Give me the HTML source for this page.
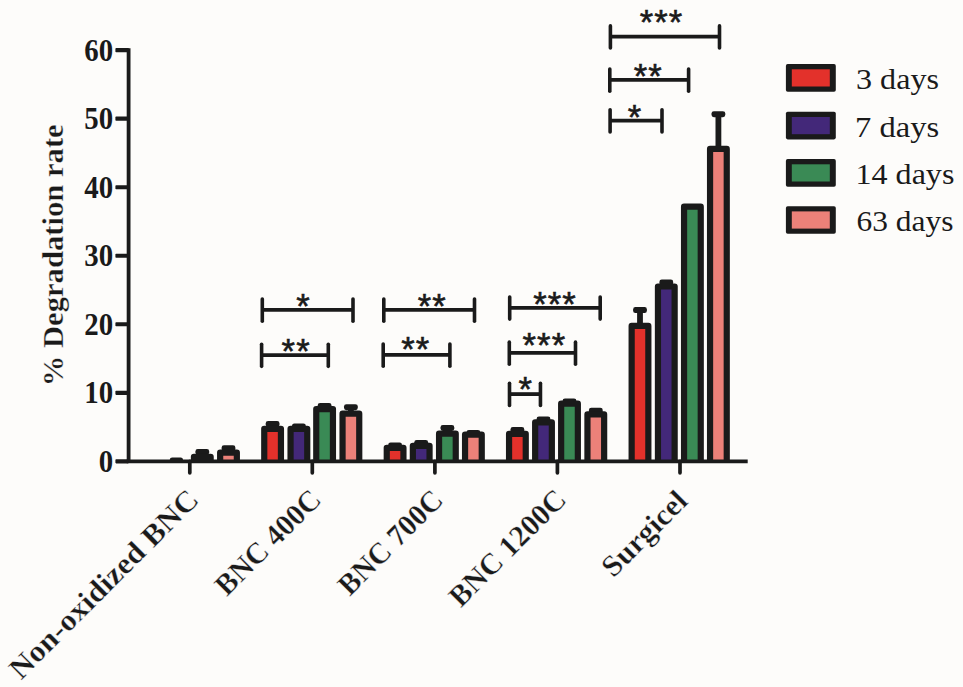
<!DOCTYPE html>
<html><head><meta charset="utf-8"><style>
html,body{margin:0;padding:0;background:#fdfcfa;width:963px;height:687px;overflow:hidden;}
svg{display:block;}
</style></head><body>
<svg width="963" height="687" viewBox="0 0 963 687">
<defs><clipPath id="cb"><rect x="0" y="0" width="963" height="461.3"/></clipPath></defs>
<rect x="0" y="0" width="963" height="687" fill="#fdfcfa"/>
<g clip-path="url(#cb)">
<rect x="169.80" y="457.40" width="13.2" height="8" rx="2.4" fill="#1a1a1a"/>
<rect x="199.40" y="450.00" width="5.8" height="7.80" fill="#1a1a1a"/>
<rect x="195.40" y="449.00" width="13.8" height="6.0" rx="2.4" fill="#1a1a1a"/>
<rect x="193.95" y="456.80" width="16.70" height="14.50" fill="#3a8a55" stroke="#1a1a1a" stroke-width="6.2" stroke-linejoin="round"/>
<rect x="225.60" y="446.30" width="5.8" height="7.30" fill="#1a1a1a"/>
<rect x="221.60" y="445.30" width="13.8" height="6.0" rx="2.4" fill="#1a1a1a"/>
<rect x="220.15" y="452.60" width="16.70" height="18.70" fill="#ec8179" stroke="#1a1a1a" stroke-width="6.2" stroke-linejoin="round"/>
<rect x="269.70" y="422.00" width="5.8" height="7.80" fill="#1a1a1a"/>
<rect x="265.70" y="421.00" width="13.8" height="6.0" rx="2.4" fill="#1a1a1a"/>
<rect x="264.25" y="428.80" width="16.70" height="42.50" fill="#e3312b" stroke="#1a1a1a" stroke-width="6.2" stroke-linejoin="round"/>
<rect x="296.00" y="424.40" width="5.8" height="5.40" fill="#1a1a1a"/>
<rect x="292.00" y="423.40" width="13.8" height="6.0" rx="2.4" fill="#1a1a1a"/>
<rect x="290.55" y="428.80" width="16.70" height="42.50" fill="#432879" stroke="#1a1a1a" stroke-width="6.2" stroke-linejoin="round"/>
<rect x="321.70" y="404.10" width="5.8" height="6.00" fill="#1a1a1a"/>
<rect x="317.70" y="403.10" width="13.8" height="6.0" rx="2.4" fill="#1a1a1a"/>
<rect x="316.25" y="409.10" width="16.70" height="62.20" fill="#3a8a55" stroke="#1a1a1a" stroke-width="6.2" stroke-linejoin="round"/>
<rect x="348.00" y="405.20" width="5.8" height="9.50" fill="#1a1a1a"/>
<rect x="344.00" y="404.20" width="13.8" height="6.0" rx="2.4" fill="#1a1a1a"/>
<rect x="342.55" y="413.70" width="16.70" height="57.60" fill="#ec8179" stroke="#1a1a1a" stroke-width="6.2" stroke-linejoin="round"/>
<rect x="392.20" y="443.60" width="5.8" height="5.20" fill="#1a1a1a"/>
<rect x="388.20" y="442.60" width="13.8" height="6.0" rx="2.4" fill="#1a1a1a"/>
<rect x="386.75" y="447.80" width="16.70" height="23.50" fill="#e3312b" stroke="#1a1a1a" stroke-width="6.2" stroke-linejoin="round"/>
<rect x="418.30" y="440.90" width="5.8" height="5.90" fill="#1a1a1a"/>
<rect x="414.30" y="439.90" width="13.8" height="6.0" rx="2.4" fill="#1a1a1a"/>
<rect x="412.85" y="445.80" width="16.70" height="25.50" fill="#432879" stroke="#1a1a1a" stroke-width="6.2" stroke-linejoin="round"/>
<rect x="444.50" y="426.00" width="5.8" height="8.70" fill="#1a1a1a"/>
<rect x="440.50" y="425.00" width="13.8" height="6.0" rx="2.4" fill="#1a1a1a"/>
<rect x="439.05" y="433.70" width="16.70" height="37.60" fill="#3a8a55" stroke="#1a1a1a" stroke-width="6.2" stroke-linejoin="round"/>
<rect x="470.50" y="431.00" width="5.8" height="4.60" fill="#1a1a1a"/>
<rect x="466.50" y="430.00" width="13.8" height="6.0" rx="2.4" fill="#1a1a1a"/>
<rect x="465.05" y="434.60" width="16.70" height="36.70" fill="#ec8179" stroke="#1a1a1a" stroke-width="6.2" stroke-linejoin="round"/>
<rect x="514.50" y="428.10" width="5.8" height="6.70" fill="#1a1a1a"/>
<rect x="510.50" y="427.10" width="13.8" height="6.0" rx="2.4" fill="#1a1a1a"/>
<rect x="509.05" y="433.80" width="16.70" height="37.50" fill="#e3312b" stroke="#1a1a1a" stroke-width="6.2" stroke-linejoin="round"/>
<rect x="540.60" y="417.60" width="5.8" height="5.70" fill="#1a1a1a"/>
<rect x="536.60" y="416.60" width="13.8" height="6.0" rx="2.4" fill="#1a1a1a"/>
<rect x="535.15" y="422.30" width="16.70" height="49.00" fill="#432879" stroke="#1a1a1a" stroke-width="6.2" stroke-linejoin="round"/>
<rect x="566.60" y="399.50" width="5.8" height="5.20" fill="#1a1a1a"/>
<rect x="562.60" y="398.50" width="13.8" height="6.0" rx="2.4" fill="#1a1a1a"/>
<rect x="561.15" y="403.70" width="16.70" height="67.60" fill="#3a8a55" stroke="#1a1a1a" stroke-width="6.2" stroke-linejoin="round"/>
<rect x="592.90" y="408.70" width="5.8" height="6.70" fill="#1a1a1a"/>
<rect x="588.90" y="407.70" width="13.8" height="6.0" rx="2.4" fill="#1a1a1a"/>
<rect x="587.45" y="414.40" width="16.70" height="56.90" fill="#ec8179" stroke="#1a1a1a" stroke-width="6.2" stroke-linejoin="round"/>
<rect x="637.10" y="308.10" width="5.8" height="18.80" fill="#1a1a1a"/>
<rect x="633.10" y="307.10" width="13.8" height="6.0" rx="2.4" fill="#1a1a1a"/>
<rect x="631.65" y="325.90" width="16.70" height="145.40" fill="#e3312b" stroke="#1a1a1a" stroke-width="6.2" stroke-linejoin="round"/>
<rect x="663.40" y="280.50" width="5.8" height="7.00" fill="#1a1a1a"/>
<rect x="659.40" y="279.50" width="13.8" height="6.0" rx="2.4" fill="#1a1a1a"/>
<rect x="657.95" y="286.50" width="16.70" height="184.80" fill="#432879" stroke="#1a1a1a" stroke-width="6.2" stroke-linejoin="round"/>
<rect x="684.05" y="206.70" width="16.70" height="264.60" fill="#3a8a55" stroke="#1a1a1a" stroke-width="6.2" stroke-linejoin="round"/>
<rect x="715.50" y="112.20" width="5.8" height="37.70" fill="#1a1a1a"/>
<rect x="711.50" y="111.20" width="13.8" height="6.0" rx="2.4" fill="#1a1a1a"/>
<rect x="710.05" y="148.90" width="16.70" height="322.40" fill="#ec8179" stroke="#1a1a1a" stroke-width="6.2" stroke-linejoin="round"/>
</g>
<line x1="128.6" y1="48.300000000000004" x2="128.6" y2="463.1" stroke="#1a1a1a" stroke-width="3.8"/>
<line x1="126.7" y1="461.3" x2="747.7" y2="461.3" stroke="#1a1a1a" stroke-width="3.7"/>
<rect x="115.4" y="459.20" width="13.5" height="4.2" rx="0.8" fill="#1a1a1a"/>
<rect x="115.4" y="390.68" width="13.5" height="4.2" rx="0.8" fill="#1a1a1a"/>
<rect x="115.4" y="322.17" width="13.5" height="4.2" rx="0.8" fill="#1a1a1a"/>
<rect x="115.4" y="253.65" width="13.5" height="4.2" rx="0.8" fill="#1a1a1a"/>
<rect x="115.4" y="185.13" width="13.5" height="4.2" rx="0.8" fill="#1a1a1a"/>
<rect x="115.4" y="116.62" width="13.5" height="4.2" rx="0.8" fill="#1a1a1a"/>
<rect x="115.4" y="48.10" width="13.5" height="4.2" rx="0.8" fill="#1a1a1a"/>
<line x1="189.8" y1="461.3" x2="189.8" y2="472.8" stroke="#1a1a1a" stroke-width="3.7" stroke-linecap="round"/>
<line x1="312.3" y1="461.3" x2="312.3" y2="472.8" stroke="#1a1a1a" stroke-width="3.7" stroke-linecap="round"/>
<line x1="434.9" y1="461.3" x2="434.9" y2="472.8" stroke="#1a1a1a" stroke-width="3.7" stroke-linecap="round"/>
<line x1="557.4" y1="461.3" x2="557.4" y2="472.8" stroke="#1a1a1a" stroke-width="3.7" stroke-linecap="round"/>
<line x1="680.0" y1="461.3" x2="680.0" y2="472.8" stroke="#1a1a1a" stroke-width="3.7" stroke-linecap="round"/>
<text transform="translate(113.2,471.99) scale(0.935,1)" text-anchor="end" font-family="Liberation Serif, serif" font-weight="bold" font-size="30.9" fill="#1a1a1a">0</text>
<text transform="translate(113.2,403.48) scale(0.935,1)" text-anchor="end" font-family="Liberation Serif, serif" font-weight="bold" font-size="30.9" fill="#1a1a1a">10</text>
<text transform="translate(113.2,334.96) scale(0.935,1)" text-anchor="end" font-family="Liberation Serif, serif" font-weight="bold" font-size="30.9" fill="#1a1a1a">20</text>
<text transform="translate(113.2,266.44) scale(0.935,1)" text-anchor="end" font-family="Liberation Serif, serif" font-weight="bold" font-size="30.9" fill="#1a1a1a">30</text>
<text transform="translate(113.2,197.93) scale(0.935,1)" text-anchor="end" font-family="Liberation Serif, serif" font-weight="bold" font-size="30.9" fill="#1a1a1a">40</text>
<text transform="translate(113.2,129.41) scale(0.935,1)" text-anchor="end" font-family="Liberation Serif, serif" font-weight="bold" font-size="30.9" fill="#1a1a1a">50</text>
<text transform="translate(113.2,60.89) scale(0.935,1)" text-anchor="end" font-family="Liberation Serif, serif" font-weight="bold" font-size="30.9" fill="#1a1a1a">60</text>
<text transform="translate(62.5,386.3) rotate(-90)" font-family="Liberation Serif, serif" font-weight="bold" font-size="30" textLength="262" lengthAdjust="spacingAndGlyphs" fill="#1a1a1a" stroke="#fdfcfa" stroke-width="0.35">% Degradation rate</text>
<text transform="translate(200.34,501.26) rotate(-45)" text-anchor="end" font-family="Liberation Serif, serif" font-weight="bold" font-size="30" textLength="253.8" lengthAdjust="spacingAndGlyphs" fill="#1a1a1a" stroke="#fdfcfa" stroke-width="0.35">Non-oxidized BNC</text>
<text transform="translate(322.84,501.26) rotate(-45)" text-anchor="end" font-family="Liberation Serif, serif" font-weight="bold" font-size="30" textLength="135.9" lengthAdjust="spacingAndGlyphs" fill="#1a1a1a" stroke="#fdfcfa" stroke-width="0.35">BNC 400C</text>
<text transform="translate(444.80,501.90) rotate(-45)" text-anchor="end" font-family="Liberation Serif, serif" font-weight="bold" font-size="30" textLength="134.4" lengthAdjust="spacingAndGlyphs" fill="#1a1a1a" stroke="#fdfcfa" stroke-width="0.35">BNC 700C</text>
<text transform="translate(567.94,501.26) rotate(-45)" text-anchor="end" font-family="Liberation Serif, serif" font-weight="bold" font-size="30" textLength="151.5" lengthAdjust="spacingAndGlyphs" fill="#1a1a1a" stroke="#fdfcfa" stroke-width="0.35">BNC 1200C</text>
<text transform="translate(689.19,502.61) rotate(-45)" text-anchor="end" font-family="Liberation Serif, serif" font-weight="bold" font-size="30" textLength="107.3" lengthAdjust="spacingAndGlyphs" fill="#1a1a1a" stroke="#fdfcfa" stroke-width="0.35">Surgicel</text>
<line x1="262.3" y1="309.9" x2="353.0" y2="309.9" stroke="#1a1a1a" stroke-width="3.8"/>
<line x1="262.3" y1="299.10" x2="262.3" y2="321.20" stroke="#1a1a1a" stroke-width="3.6" stroke-linecap="round"/>
<line x1="353.0" y1="299.10" x2="353.0" y2="321.20" stroke="#1a1a1a" stroke-width="3.6" stroke-linecap="round"/>
<text x="296.24" y="318.14" font-family="Liberation Sans, sans-serif" font-size="34.5" fill="#1a1a1a" stroke="#1a1a1a" stroke-width="0.6">*</text>
<line x1="261.6" y1="355.05" x2="328.3" y2="355.05" stroke="#1a1a1a" stroke-width="3.8"/>
<line x1="261.6" y1="344.25" x2="261.6" y2="366.35" stroke="#1a1a1a" stroke-width="3.6" stroke-linecap="round"/>
<line x1="328.3" y1="344.25" x2="328.3" y2="366.35" stroke="#1a1a1a" stroke-width="3.6" stroke-linecap="round"/>
<text x="281.54" y="363.24" font-family="Liberation Sans, sans-serif" font-size="34.5" fill="#1a1a1a" stroke="#1a1a1a" stroke-width="0.6">*</text>
<text x="296.14" y="363.24" font-family="Liberation Sans, sans-serif" font-size="34.5" fill="#1a1a1a" stroke="#1a1a1a" stroke-width="0.6">*</text>
<line x1="383.8" y1="309.9" x2="474.5" y2="309.9" stroke="#1a1a1a" stroke-width="3.8"/>
<line x1="383.8" y1="299.10" x2="383.8" y2="321.20" stroke="#1a1a1a" stroke-width="3.6" stroke-linecap="round"/>
<line x1="474.5" y1="299.10" x2="474.5" y2="321.20" stroke="#1a1a1a" stroke-width="3.6" stroke-linecap="round"/>
<text x="417.74" y="318.14" font-family="Liberation Sans, sans-serif" font-size="34.5" fill="#1a1a1a" stroke="#1a1a1a" stroke-width="0.6">*</text>
<text x="432.34" y="318.14" font-family="Liberation Sans, sans-serif" font-size="34.5" fill="#1a1a1a" stroke="#1a1a1a" stroke-width="0.6">*</text>
<line x1="383.2" y1="354.85" x2="449.9" y2="354.85" stroke="#1a1a1a" stroke-width="3.8"/>
<line x1="383.2" y1="344.05" x2="383.2" y2="366.15" stroke="#1a1a1a" stroke-width="3.6" stroke-linecap="round"/>
<line x1="449.9" y1="344.05" x2="449.9" y2="366.15" stroke="#1a1a1a" stroke-width="3.6" stroke-linecap="round"/>
<text x="401.24" y="360.99" font-family="Liberation Sans, sans-serif" font-size="34.5" fill="#1a1a1a" stroke="#1a1a1a" stroke-width="0.6">*</text>
<text x="415.84" y="360.99" font-family="Liberation Sans, sans-serif" font-size="34.5" fill="#1a1a1a" stroke="#1a1a1a" stroke-width="0.6">*</text>
<line x1="509.7" y1="307.8" x2="600.2" y2="307.8" stroke="#1a1a1a" stroke-width="3.8"/>
<line x1="509.7" y1="297.00" x2="509.7" y2="319.10" stroke="#1a1a1a" stroke-width="3.6" stroke-linecap="round"/>
<line x1="600.2" y1="297.00" x2="600.2" y2="319.10" stroke="#1a1a1a" stroke-width="3.6" stroke-linecap="round"/>
<text x="533.14" y="316.19" font-family="Liberation Sans, sans-serif" font-size="34.5" fill="#1a1a1a" stroke="#1a1a1a" stroke-width="0.6">*</text>
<text x="547.74" y="316.19" font-family="Liberation Sans, sans-serif" font-size="34.5" fill="#1a1a1a" stroke="#1a1a1a" stroke-width="0.6">*</text>
<text x="562.34" y="316.19" font-family="Liberation Sans, sans-serif" font-size="34.5" fill="#1a1a1a" stroke="#1a1a1a" stroke-width="0.6">*</text>
<line x1="509.3" y1="352.95" x2="575.5" y2="352.95" stroke="#1a1a1a" stroke-width="3.8"/>
<line x1="509.3" y1="342.15" x2="509.3" y2="364.25" stroke="#1a1a1a" stroke-width="3.6" stroke-linecap="round"/>
<line x1="575.5" y1="342.15" x2="575.5" y2="364.25" stroke="#1a1a1a" stroke-width="3.6" stroke-linecap="round"/>
<text x="522.44" y="357.44" font-family="Liberation Sans, sans-serif" font-size="34.5" fill="#1a1a1a" stroke="#1a1a1a" stroke-width="0.6">*</text>
<text x="537.04" y="357.44" font-family="Liberation Sans, sans-serif" font-size="34.5" fill="#1a1a1a" stroke="#1a1a1a" stroke-width="0.6">*</text>
<text x="551.64" y="357.44" font-family="Liberation Sans, sans-serif" font-size="34.5" fill="#1a1a1a" stroke="#1a1a1a" stroke-width="0.6">*</text>
<line x1="509.5" y1="394.1" x2="540.45" y2="394.1" stroke="#1a1a1a" stroke-width="3.8"/>
<line x1="509.5" y1="383.30" x2="509.5" y2="405.40" stroke="#1a1a1a" stroke-width="3.6" stroke-linecap="round"/>
<line x1="540.45" y1="383.30" x2="540.45" y2="405.40" stroke="#1a1a1a" stroke-width="3.6" stroke-linecap="round"/>
<text x="518.44" y="400.54" font-family="Liberation Sans, sans-serif" font-size="34.5" fill="#1a1a1a" stroke="#1a1a1a" stroke-width="0.6">*</text>
<line x1="610.4" y1="36.7" x2="719.5" y2="36.7" stroke="#1a1a1a" stroke-width="3.8"/>
<line x1="610.4" y1="25.90" x2="610.4" y2="48.00" stroke="#1a1a1a" stroke-width="3.6" stroke-linecap="round"/>
<line x1="719.5" y1="25.90" x2="719.5" y2="48.00" stroke="#1a1a1a" stroke-width="3.6" stroke-linecap="round"/>
<text x="639.64" y="34.24" font-family="Liberation Sans, sans-serif" font-size="34.5" fill="#1a1a1a" stroke="#1a1a1a" stroke-width="0.6">*</text>
<text x="654.24" y="34.24" font-family="Liberation Sans, sans-serif" font-size="34.5" fill="#1a1a1a" stroke="#1a1a1a" stroke-width="0.6">*</text>
<text x="668.84" y="34.24" font-family="Liberation Sans, sans-serif" font-size="34.5" fill="#1a1a1a" stroke="#1a1a1a" stroke-width="0.6">*</text>
<line x1="609.8" y1="79.85" x2="688.6" y2="79.85" stroke="#1a1a1a" stroke-width="3.8"/>
<line x1="609.8" y1="69.05" x2="609.8" y2="91.15" stroke="#1a1a1a" stroke-width="3.6" stroke-linecap="round"/>
<line x1="688.6" y1="69.05" x2="688.6" y2="91.15" stroke="#1a1a1a" stroke-width="3.6" stroke-linecap="round"/>
<text x="633.64" y="87.94" font-family="Liberation Sans, sans-serif" font-size="34.5" fill="#1a1a1a" stroke="#1a1a1a" stroke-width="0.6">*</text>
<text x="648.24" y="87.94" font-family="Liberation Sans, sans-serif" font-size="34.5" fill="#1a1a1a" stroke="#1a1a1a" stroke-width="0.6">*</text>
<line x1="610.1" y1="120.65" x2="662.0" y2="120.65" stroke="#1a1a1a" stroke-width="3.8"/>
<line x1="610.1" y1="109.85" x2="610.1" y2="131.95" stroke="#1a1a1a" stroke-width="3.6" stroke-linecap="round"/>
<line x1="662.0" y1="109.85" x2="662.0" y2="131.95" stroke="#1a1a1a" stroke-width="3.6" stroke-linecap="round"/>
<text x="627.84" y="128.74" font-family="Liberation Sans, sans-serif" font-size="34.5" fill="#1a1a1a" stroke="#1a1a1a" stroke-width="0.6">*</text>
<rect x="785.9" y="64.10" width="49.9" height="27.6" rx="1.8" fill="#1a1a1a"/>
<rect x="791.8" y="69.30" width="38" height="17.2" fill="#e3312b"/>
<text x="856" y="89.20" font-family="Liberation Serif, serif" font-size="29.5" textLength="83" lengthAdjust="spacingAndGlyphs" fill="#1a1a1a">3 days</text>
<rect x="785.9" y="111.80" width="49.9" height="27.6" rx="1.8" fill="#1a1a1a"/>
<rect x="791.8" y="117.00" width="38" height="17.2" fill="#432879"/>
<text x="855" y="136.90" font-family="Liberation Serif, serif" font-size="29.5" textLength="84.2" lengthAdjust="spacingAndGlyphs" fill="#1a1a1a">7 days</text>
<rect x="785.9" y="159.10" width="49.9" height="27.6" rx="1.8" fill="#1a1a1a"/>
<rect x="791.8" y="164.30" width="38" height="17.2" fill="#3a8a55"/>
<text x="855.5" y="184.20" font-family="Liberation Serif, serif" font-size="29.5" textLength="98.9" lengthAdjust="spacingAndGlyphs" fill="#1a1a1a">14 days</text>
<rect x="785.9" y="206.20" width="49.9" height="27.6" rx="1.8" fill="#1a1a1a"/>
<rect x="791.8" y="211.40" width="38" height="17.2" fill="#ec8179"/>
<text x="856.5" y="231.30" font-family="Liberation Serif, serif" font-size="29.5" textLength="96.9" lengthAdjust="spacingAndGlyphs" fill="#1a1a1a">63 days</text>
</svg>
</body></html>
